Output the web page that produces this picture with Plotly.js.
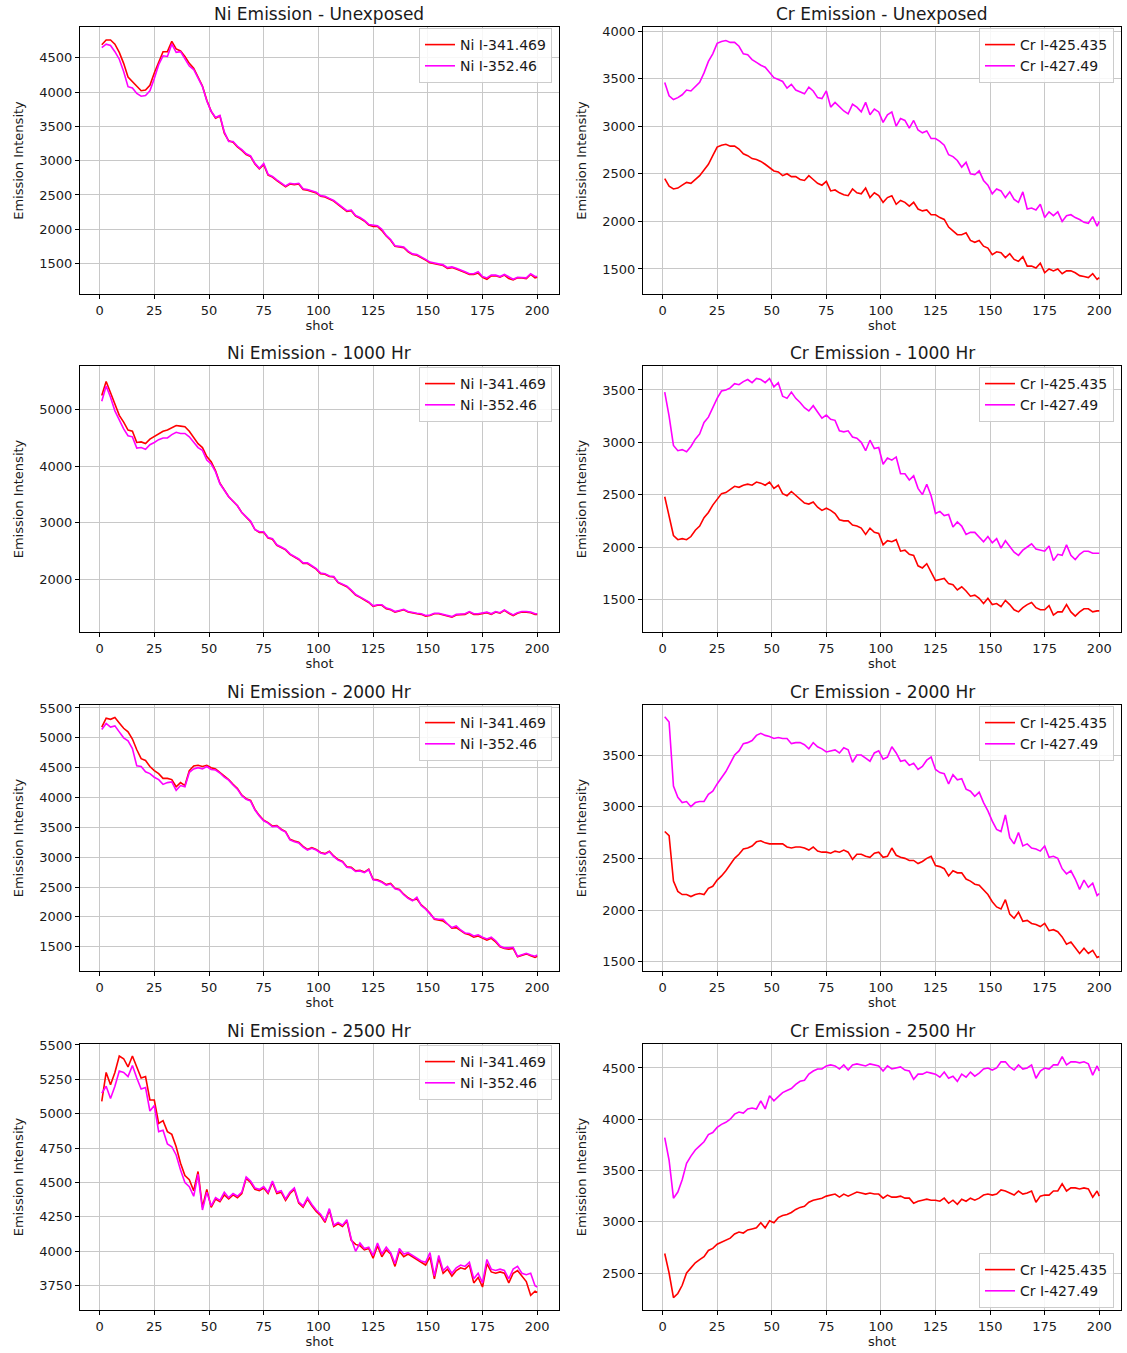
<!DOCTYPE html>
<html>
<head>
<meta charset="utf-8">
<script src="https://cdn.plot.ly/plotly-3.0.1.min.js"></script>
<style>
  html, body { margin: 0; padding: 0; background: #ffffff; }
  #chart { width: 1127px; height: 1353px; }
</style>
</head>
<body>
<div id="chart"></div>
<script>
// ---------- DATA ----------
const shots = [1,3,5,7,9,11,13,15,17,19,21,23,25,27,29,31,33,35,37,39,
  41,43,45,47,49,51,53,55,57,59,61,63,65,67,69,71,73,75,77,79,
  81,83,85,87,89,91,93,95,97,99,101,103,105,107,109,111,113,115,117,119,
  121,123,125,127,129,131,133,135,137,139,141,143,145,147,149,151,153,155,157,159,
  161,163,165,167,169,171,173,175,177,179,181,183,185,187,189,191,193,195,197,199,200];

const panelTitles = ["Ni Emission - Unexposed", "Cr Emission - Unexposed",
  "Ni Emission - 1000 Hr", "Cr Emission - 1000 Hr",
  "Ni Emission - 2000 Hr", "Cr Emission - 2000 Hr",
  "Ni Emission - 2500 Hr", "Cr Emission - 2500 Hr"];
const niNames = ["Ni I-341.469", "Ni I-352.46"];
const crNames = ["Cr I-425.435", "Cr I-427.49"];

// Ni - Unexposed
const niUnexp341 = [4690,4760,4760,4700,4580,4420,4220,4150,4080,4020,
  4030,4100,4280,4450,4590,4590,4740,4630,4600,4520,
  4420,4350,4220,4090,3880,3720,3620,3650,3400,3290,
  3270,3200,3150,3090,3060,2950,2880,2940,2790,2760,
  2710,2660,2620,2660,2650,2660,2580,2570,2550,2530,
  2480,2470,2440,2410,2360,2310,2260,2270,2190,2160,
  2120,2060,2040,2040,1980,1900,1840,1750,1740,1730,
  1670,1630,1620,1590,1550,1510,1500,1490,1470,1430,
  1440,1420,1400,1370,1340,1340,1360,1300,1270,1320,
  1320,1300,1330,1280,1260,1290,1290,1280,1340,1290,1300];
const niUnexp352 = [4650,4700,4680,4590,4480,4300,4080,4060,3980,3940,
  3950,4020,4200,4400,4530,4520,4700,4580,4590,4480,
  4380,4330,4200,4080,3870,3720,3630,3660,3420,3280,
  3280,3210,3160,3100,3070,2960,2890,2960,2800,2770,
  2720,2670,2630,2670,2660,2670,2590,2580,2560,2540,
  2490,2480,2450,2420,2370,2320,2270,2280,2200,2170,
  2130,2070,2060,2050,2000,1910,1850,1760,1750,1740,
  1680,1640,1630,1600,1560,1520,1510,1500,1480,1440,
  1450,1430,1410,1380,1350,1350,1380,1310,1290,1330,
  1330,1310,1340,1300,1270,1300,1300,1290,1350,1310,1310];

// Cr - Unexposed
const crUnexp425 = [2450,2370,2340,2350,2380,2410,2400,2440,2480,2540,
  2600,2690,2780,2800,2810,2790,2790,2760,2710,2690,
  2660,2650,2630,2600,2560,2530,2520,2480,2500,2470,
  2470,2440,2430,2480,2440,2400,2380,2420,2320,2330,
  2300,2280,2270,2340,2300,2290,2350,2250,2300,2270,
  2200,2250,2270,2180,2220,2200,2160,2200,2130,2110,
  2120,2070,2070,2040,2020,1940,1900,1860,1860,1880,
  1800,1780,1800,1740,1720,1650,1680,1670,1620,1660,
  1600,1580,1630,1530,1530,1510,1560,1460,1500,1480,
  1500,1450,1480,1480,1460,1430,1420,1410,1450,1390,1410];
const crUnexp427 = [3460,3320,3280,3300,3330,3380,3370,3420,3460,3560,
  3680,3760,3870,3890,3900,3880,3880,3840,3760,3750,
  3700,3670,3640,3620,3560,3510,3490,3470,3400,3440,
  3380,3360,3340,3410,3370,3300,3290,3370,3200,3250,
  3200,3160,3130,3230,3200,3150,3250,3120,3180,3150,
  3040,3120,3150,3000,3080,3060,2980,3060,2960,2930,
  2950,2870,2870,2840,2800,2700,2680,2640,2570,2620,
  2500,2490,2530,2430,2380,2290,2340,2320,2250,2310,
  2230,2200,2310,2130,2140,2120,2180,2040,2100,2060,
  2100,2000,2060,2070,2040,2020,1990,1980,2050,1950,2000];

// Ni - 1000 Hr
const ni1000_341 = [5250,5500,5300,5100,4900,4780,4640,4620,4420,4430,
  4400,4480,4530,4580,4620,4640,4680,4720,4710,4700,
  4620,4500,4400,4330,4170,4080,3920,3700,3580,3460,
  3380,3300,3180,3100,3020,2880,2830,2830,2730,2710,
  2600,2560,2520,2440,2400,2350,2280,2280,2230,2180,
  2100,2090,2050,2040,1940,1900,1870,1800,1720,1680,
  1640,1590,1520,1540,1540,1480,1460,1420,1440,1460,
  1420,1400,1390,1380,1350,1360,1390,1390,1370,1350,
  1330,1370,1370,1380,1420,1380,1380,1390,1410,1380,
  1420,1400,1450,1400,1360,1400,1420,1420,1410,1380,1380];
const ni1000_352 = [5150,5420,5220,4980,4820,4660,4540,4520,4320,4330,
  4300,4380,4420,4470,4500,4500,4560,4600,4580,4580,
  4520,4430,4330,4280,4110,4040,3900,3690,3570,3460,
  3380,3300,3180,3110,3030,2880,2840,2840,2740,2720,
  2610,2570,2530,2450,2410,2360,2290,2290,2240,2190,
  2110,2100,2060,2050,1950,1910,1880,1810,1730,1690,
  1650,1600,1530,1550,1550,1490,1470,1430,1450,1470,
  1430,1410,1400,1390,1360,1370,1400,1400,1380,1360,
  1340,1380,1380,1390,1430,1390,1390,1400,1420,1390,
  1430,1410,1460,1410,1370,1410,1430,1430,1420,1390,1390];

// Cr - 1000 Hr
const cr1000_425 = [2480,2300,2110,2070,2080,2070,2100,2160,2200,2280,
  2330,2400,2460,2510,2520,2550,2580,2570,2590,2600,
  2590,2620,2610,2590,2620,2560,2590,2510,2490,2530,
  2490,2460,2420,2410,2430,2380,2350,2370,2350,2320,
  2260,2250,2250,2210,2200,2180,2120,2180,2140,2130,
  2020,2060,2050,2070,1960,1970,1930,1920,1820,1800,
  1840,1760,1680,1690,1700,1650,1640,1590,1620,1580,
  1530,1540,1510,1460,1510,1450,1460,1430,1490,1450,
  1400,1380,1420,1450,1470,1420,1400,1400,1440,1350,
  1380,1380,1450,1380,1340,1380,1410,1410,1380,1390,1390];
const cr1000_427 = [3480,3250,2970,2920,2930,2910,2960,3030,3080,3190,
  3240,3330,3420,3490,3500,3520,3560,3550,3580,3600,
  3570,3610,3600,3570,3610,3530,3570,3440,3420,3480,
  3420,3380,3330,3300,3350,3290,3230,3260,3220,3210,
  3110,3100,3110,3050,3040,3000,2920,3020,2940,2950,
  2790,2850,2830,2860,2700,2700,2640,2680,2560,2500,
  2600,2490,2320,2340,2300,2310,2190,2240,2200,2120,
  2140,2140,2090,2050,2100,2040,2080,1990,2060,2010,
  1950,1920,1970,2000,2030,1980,1970,1960,2010,1870,
  1930,1920,2020,1920,1880,1930,1960,1960,1940,1940,1940];

// Ni - 2000 Hr
const ni2000_341 = [5180,5330,5310,5340,5250,5160,5100,4980,4800,4650,
  4620,4520,4450,4400,4320,4320,4300,4180,4250,4200,
  4450,4530,4540,4520,4540,4500,4480,4420,4350,4300,
  4220,4150,4040,3980,3950,3800,3700,3620,3580,3520,
  3530,3470,3430,3300,3270,3250,3180,3130,3160,3130,
  3080,3060,3100,3020,2960,2930,2840,2830,2770,2780,
  2750,2800,2630,2620,2590,2540,2560,2480,2460,2380,
  2320,2280,2300,2200,2140,2060,1960,1950,1930,1880,
  1810,1820,1770,1720,1700,1660,1680,1640,1610,1640,
  1580,1500,1470,1460,1470,1330,1350,1380,1350,1320,1340];
const ni2000_352 = [5140,5240,5180,5200,5100,5000,4950,4820,4530,4520,
  4430,4400,4340,4300,4220,4250,4260,4120,4200,4180,
  4420,4480,4500,4480,4520,4470,4460,4410,4340,4290,
  4210,4140,4030,3970,3940,3790,3690,3610,3570,3510,
  3520,3460,3420,3290,3260,3240,3170,3120,3150,3120,
  3070,3050,3090,3010,2950,2920,2830,2820,2760,2770,
  2740,2790,2620,2610,2580,2530,2550,2470,2450,2370,
  2310,2270,2330,2190,2130,2050,1970,1960,1960,1880,
  1820,1850,1780,1730,1720,1680,1700,1660,1630,1660,
  1600,1510,1480,1480,1490,1340,1370,1390,1360,1340,1360];

// Cr - 2000 Hr
const cr2000_425 = [2760,2720,2280,2180,2150,2150,2130,2150,2160,2150,
  2210,2230,2290,2330,2380,2440,2500,2540,2590,2600,
  2620,2660,2670,2650,2640,2640,2640,2640,2610,2600,
  2610,2610,2600,2580,2610,2570,2560,2560,2550,2570,
  2560,2580,2560,2490,2540,2540,2520,2510,2550,2560,
  2510,2520,2600,2530,2510,2500,2480,2480,2450,2470,
  2500,2520,2430,2420,2400,2330,2380,2360,2360,2300,
  2280,2250,2240,2190,2150,2080,2030,2010,2100,1960,
  1920,1980,1890,1900,1870,1860,1840,1870,1800,1810,
  1790,1740,1670,1690,1640,1580,1630,1580,1610,1540,1550];
const cr2000_427 = [3870,3820,3200,3090,3040,3050,3000,3040,3050,3050,
  3120,3150,3220,3280,3340,3420,3500,3540,3610,3620,
  3640,3690,3710,3690,3680,3660,3670,3660,3660,3610,
  3620,3620,3600,3560,3620,3580,3560,3530,3540,3550,
  3520,3570,3550,3430,3500,3500,3470,3440,3520,3540,
  3460,3480,3580,3520,3440,3450,3400,3420,3360,3390,
  3450,3480,3360,3330,3320,3220,3310,3260,3270,3170,
  3150,3100,3140,3040,2960,2860,2780,2760,2920,2700,
  2640,2750,2620,2640,2600,2590,2570,2620,2510,2520,
  2500,2400,2350,2380,2300,2200,2290,2220,2260,2140,2160];

// Ni - 2500 Hr
const ni2500_341 = [5090,5300,5210,5300,5420,5400,5340,5420,5340,5260,
  5270,5100,5100,4930,4950,4870,4850,4760,4640,4550,
  4520,4440,4580,4320,4450,4320,4380,4360,4410,4380,
  4410,4390,4420,4530,4500,4450,4440,4460,4420,4500,
  4420,4430,4370,4420,4450,4350,4320,4380,4330,4290,
  4260,4210,4300,4180,4200,4180,4220,4080,4050,4040,
  4010,4020,3950,4040,3960,4010,3980,3890,4000,3960,
  3980,3960,3940,3920,3900,3960,3800,3950,3840,3870,
  3820,3860,3880,3870,3900,3770,3810,3740,3910,3850,
  3840,3850,3840,3770,3840,3860,3820,3780,3680,3710,3700];
const ni2500_352 = [5150,5200,5110,5200,5310,5300,5270,5350,5260,5180,
  5190,5020,5060,4870,4880,4780,4760,4700,4590,4500,
  4470,4400,4560,4300,4430,4330,4390,4370,4430,4390,
  4420,4400,4430,4540,4510,4460,4450,4470,4430,4510,
  4430,4440,4380,4430,4460,4360,4330,4390,4340,4300,
  4270,4220,4310,4190,4210,4190,4230,4090,4000,4060,
  4020,4030,3970,4060,3980,4030,3990,3910,4020,3980,
  3990,3970,3950,3930,3920,3990,3820,3970,3860,3890,
  3840,3880,3900,3890,3920,3800,3840,3770,3940,3870,
  3860,3870,3860,3800,3870,3890,3840,3830,3840,3750,3740];

// Cr - 2500 Hr
const cr2500_425 = [2690,2500,2260,2300,2380,2500,2550,2600,2630,2660,
  2720,2740,2780,2800,2820,2840,2880,2900,2890,2920,
  2930,2940,2990,2940,3010,2990,3040,3060,3070,3090,
  3120,3140,3150,3190,3210,3220,3230,3250,3260,3270,
  3240,3270,3250,3270,3290,3280,3270,3280,3270,3270,
  3230,3260,3240,3240,3250,3230,3230,3180,3200,3210,
  3220,3210,3210,3200,3230,3180,3210,3170,3220,3200,
  3230,3210,3230,3260,3270,3260,3270,3310,3300,3280,
  3260,3300,3270,3280,3300,3190,3250,3260,3260,3300,
  3300,3370,3300,3330,3330,3320,3330,3320,3240,3300,3250];
const cr2500_427 = [3820,3600,3230,3290,3410,3570,3640,3700,3740,3780,
  3850,3870,3920,3950,3970,4000,4050,4070,4060,4100,
  4110,4100,4180,4100,4230,4180,4220,4260,4280,4300,
  4340,4370,4380,4440,4470,4490,4490,4520,4530,4520,
  4490,4530,4480,4530,4540,4530,4520,4540,4530,4520,
  4470,4520,4490,4500,4510,4480,4470,4390,4440,4440,
  4460,4450,4440,4410,4460,4400,4420,4370,4440,4410,
  4460,4420,4450,4490,4500,4480,4500,4560,4560,4510,
  4480,4530,4490,4500,4530,4400,4470,4500,4490,4530,
  4530,4610,4530,4560,4560,4550,4560,4540,4430,4520,4470];

// ---------- PANELS ----------
const panels = [
  {title: panelTitles[0], names: niNames, series: [niUnexp341, niUnexp352], yrange: [1055, 4950], dtick: 500, legendPos: "top"},
  {title: panelTitles[1], names: crNames, series: [crUnexp425, crUnexp427], yrange: [1237, 4042], dtick: 500, legendPos: "top"},
  {title: panelTitles[2], names: niNames, series: [ni1000_341, ni1000_352], yrange: [1068, 5773], dtick: 1000, legendPos: "top"},
  {title: panelTitles[3], names: crNames, series: [cr1000_425, cr1000_427], yrange: [1188, 3729], dtick: 500, legendPos: "top"},
  {title: panelTitles[4], names: niNames, series: [ni2000_341, ni2000_352], yrange: [1093, 5550], dtick: 500, legendPos: "top"},
  {title: panelTitles[5], names: crNames, series: [cr2000_425, cr2000_427], yrange: [1410, 3984], dtick: 500, legendPos: "top"},
  {title: panelTitles[6], names: niNames, series: [ni2500_341, ni2500_352], yrange: [3573, 5507], dtick: 250, legendPos: "top"},
  {title: panelTitles[7], names: crNames, series: [cr2500_425, cr2500_427], yrange: [2139, 4734], dtick: 500, legendPos: "bottom"}
];

// ---------- LAYOUT ----------
const W = 1127, H = 1353;
const colPx = [[80, 559], [643, 1121]];
const rowPx = [[27, 294], [366, 632], [705, 971], [1044, 1310]];
const lineColors = ["#ff0000", "#ff00ff"];
const FONT = "DejaVu Sans, Liberation Sans, sans-serif";
const TXT = "#1a1a1a";

const traces = [];
const layout = {
  width: W, height: H,
  margin: {l: 0, r: 0, t: 0, b: 0},
  paper_bgcolor: "#ffffff",
  plot_bgcolor: "#ffffff",
  font: {family: FONT, size: 13, color: TXT},
  showlegend: true,
  annotations: []
};

panels.forEach((p, i) => {
  const row = Math.floor(i / 2), col = i % 2;
  const n = i === 0 ? "" : String(i + 1);
  const xd = [colPx[col][0] / W, colPx[col][1] / W];
  const yd = [1 - rowPx[row][1] / H, 1 - rowPx[row][0] / H];
  const legId = i === 0 ? "legend" : "legend" + (i + 1);

  p.series.forEach((vals, k) => {
    traces.push({
      type: "scatter", mode: "lines",
      x: shots, y: vals,
      name: p.names[k],
      xaxis: "x" + n, yaxis: "y" + n,
      legend: legId,
      line: {color: lineColors[k], width: 1.6}
    });
  });

  const common = {
    showline: true, mirror: true, linecolor: "#000000", linewidth: 1,
    showgrid: true, gridcolor: "#c8c8c8", gridwidth: 1,
    zeroline: false,
    ticks: "outside", ticklen: 4, tickwidth: 1, tickcolor: "#000000",
    tickfont: {family: FONT, size: 13, color: TXT}
  };
  layout["xaxis" + n] = Object.assign({}, common, {
    domain: xd, anchor: "y" + n,
    range: [-8.95, 209.95], tick0: 0, dtick: 25,
    title: {text: "shot", font: {family: FONT, size: 13, color: TXT}, standoff: 3}
  });
  layout["yaxis" + n] = Object.assign({}, common, {
    domain: yd, anchor: "x" + n,
    range: p.yrange, tick0: 0, dtick: p.dtick,
    title: {text: "Emission Intensity", font: {family: FONT, size: 13, color: TXT}, standoff: 12}
  });

  const leg = {
    xref: "paper", yref: "paper",
    x: (colPx[col][1] - 7) / W, xanchor: "right",
    bgcolor: "rgba(255,255,255,0.85)",
    bordercolor: "#cccccc", borderwidth: 1,
    font: {family: FONT, size: 14, color: TXT},
    tracegroupgap: 0
  };
  if (p.legendPos === "top") {
    leg.y = 1 - (rowPx[row][0] + 1) / H; leg.yanchor = "top";
  } else {
    leg.y = 1 - (rowPx[row][1] - 2) / H; leg.yanchor = "bottom";
  }
  layout[legId] = leg;

  layout.annotations.push({
    xref: "paper", yref: "paper",
    x: (xd[0] + xd[1]) / 2, y: yd[1],
    xanchor: "center", yanchor: "bottom", yshift: 1,
    showarrow: false,
    text: p.title,
    font: {family: FONT, size: 17, color: TXT}
  });
});

Plotly.newPlot("chart", traces, layout, {displayModeBar: false, responsive: false});
</script>
</body>
</html>
